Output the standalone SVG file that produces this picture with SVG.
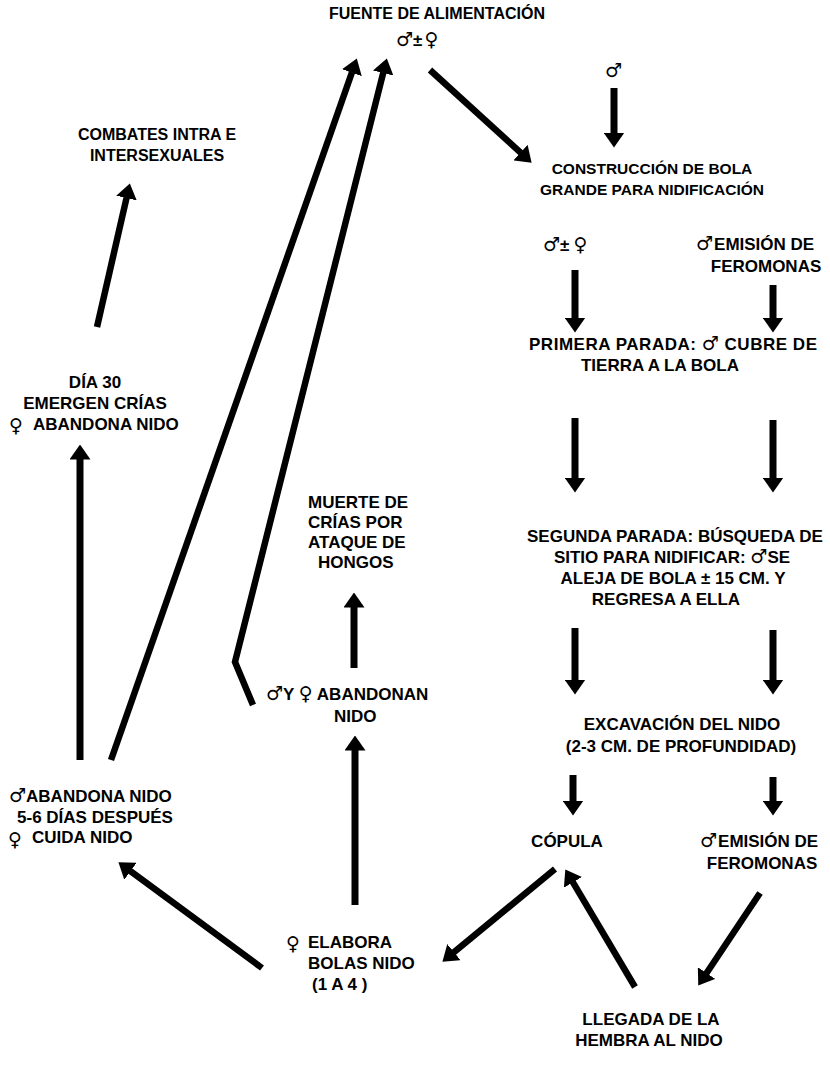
<svg xmlns="http://www.w3.org/2000/svg" width="830" height="1079" viewBox="0 0 830 1079">
<defs>
<style>
.t{font-family:"Liberation Sans",Arial,sans-serif;font-weight:bold;font-size:17px;fill:#000}
.c{text-anchor:middle}
.m{font-size:16px}
.sm{font-size:15.5px}
.s{font-family:"DejaVu Sans",sans-serif;font-weight:bold;font-size:19px}
.ln{fill:none;stroke:#000;stroke-width:7;marker-end:url(#ah)}
.ld{fill:none;stroke:#000;stroke-width:6.5;marker-end:url(#ah)}
</style>
<marker id="ah" markerUnits="userSpaceOnUse" markerWidth="15" markerHeight="21" viewBox="0 0 15 21" refX="0.5" refY="10.5" orient="auto">
<path d="M0,0 L15,10.5 L0,21 Z" fill="#000"/>
</marker>
</defs>
<rect width="830" height="1079" fill="#fff"/>
<g id="connectors">
<path class="ld" d="M111,760 L352,72.2"/>
<path class="ld" d="M253,705 L235,662 L383.3,72.5"/>
<path class="ld" d="M430,70 L520.9,152.9"/>
<path class="ln" d="M614,88 L614,133"/>
<path class="ln" d="M575,270 L575,318"/>
<path class="ln" d="M773,285 L773,318"/>
<path class="ln" d="M575,418 L575,478"/>
<path class="ln" d="M773,420 L773,478"/>
<path class="ln" d="M575,628 L575,680"/>
<path class="ln" d="M773,630 L773,680"/>
<path class="ln" d="M573,775 L573,801"/>
<path class="ln" d="M773,777 L773,801"/>
<path class="ld" d="M555,869 L453.6,952.5"/>
<path class="ld" d="M635,987 L572.7,881.9"/>
<path class="ld" d="M760,893 L706.3,973.5"/>
<path class="ld" d="M262,968 L130.1,870.9"/>
<path class="ln" d="M355,905 L355,750"/>
<path class="ln" d="M354,668 L354,607"/>
<path class="ln" d="M80,760 L80,459"/>
<path class="ld" d="M97,327 L126.6,197.6"/>
</g>
<g id="fuente">
<text class="t c m" x="437" y="19">FUENTE DE ALIMENTACIÓN</text>
<text class="t" x="396" y="46"><tspan class="s">♂</tspan><tspan>±</tspan><tspan class="s" dx="2">♀</tspan></text>
</g>
<g id="macho-top">
<text class="t s" x="605" y="77">♂</text>
</g>
<g id="construccion">
<text class="t c sm" x="652" y="174">CONSTRUCCIÓN DE BOLA</text>
<text class="t c sm" x="652" y="195">GRANDE PARA NIDIFICACIÓN</text>
</g>
<g id="pareja">
<text class="t" x="543" y="251"><tspan class="s">♂</tspan><tspan>±</tspan><tspan class="s" dx="4">♀</tspan></text>
</g>
<g id="feromonas1">
<text class="t" x="696" y="250"><tspan class="s">♂</tspan><tspan dx="1">EMISIÓN DE</tspan></text>
<text class="t c" x="766" y="272">FEROMONAS</text>
</g>
<g id="primera">
<text class="t" x="529" y="350" textLength="288" lengthAdjust="spacing">PRIMERA PARADA:  <tspan class="s">♂</tspan> CUBRE DE</text>
<text class="t c" x="660" y="371">TIERRA A LA BOLA</text>
</g>
<g id="segunda">
<text class="t c" x="675" y="542">SEGUNDA PARADA: BÚSQUEDA DE</text>
<text class="t c" x="672" y="563">SITIO PARA NIDIFICAR:  <tspan class="s">♂</tspan>SE</text>
<text class="t c" x="673" y="584">ALEJA DE BOLA  ±  15 CM. Y</text>
<text class="t c" x="666" y="605">REGRESA A ELLA</text>
</g>
<g id="excavacion">
<text class="t c" x="682" y="730">EXCAVACIÓN DEL NIDO</text>
<text class="t c" x="681" y="752">(2-3 CM. DE PROFUNDIDAD)</text>
</g>
<g id="copula">
<text class="t c" x="567" y="847">CÓPULA</text>
</g>
<g id="feromonas2">
<text class="t" x="700" y="847"><tspan class="s">♂</tspan><tspan dx="1">EMISIÓN DE</tspan></text>
<text class="t c" x="762" y="869">FEROMONAS</text>
</g>
<g id="llegada">
<text class="t c" x="651" y="1025">LLEGADA DE LA</text>
<text class="t c" x="649" y="1046">HEMBRA AL NIDO</text>
</g>
<g id="elabora">
<text class="t s" x="286" y="950">♀</text>
<text class="t" x="308" y="948">ELABORA</text>
<text class="t" x="308" y="969">BOLAS NIDO</text>
<text class="t" x="312" y="990">(1 A 4 )</text>
</g>
<g id="abandonan">
<text class="t" x="266" y="700"><tspan class="s">♂</tspan>Y <tspan class="s">♀</tspan> ABANDONAN</text>
<text class="t" x="334" y="722">NIDO</text>
</g>
<g id="muerte">
<text class="t" x="308" y="508">MUERTE DE</text>
<text class="t" x="308" y="528">CRÍAS POR</text>
<text class="t" x="308" y="548">ATAQUE DE</text>
<text class="t" x="318" y="568">HONGOS</text>
</g>
<g id="cuida">
<text class="t" x="9" y="802"><tspan class="s">♂</tspan>ABANDONA NIDO</text>
<text class="t c" x="95" y="823">5-6 DÍAS DESPUÉS</text>
<text class="t s" x="8" y="846">♀</text>
<text class="t" x="32" y="843">CUIDA NIDO</text>
</g>
<g id="dia30">
<text class="t c" x="95" y="388">DÍA 30</text>
<text class="t c" x="95" y="409">EMERGEN CRÍAS</text>
<text class="t s" x="9" y="432">♀</text>
<text class="t" x="33" y="430">ABANDONA NIDO</text>
</g>
<g id="combates">
<text class="t c m" x="157" y="140">COMBATES INTRA E</text>
<text class="t c m" x="157" y="161">INTERSEXUALES</text>
</g>
</svg>
